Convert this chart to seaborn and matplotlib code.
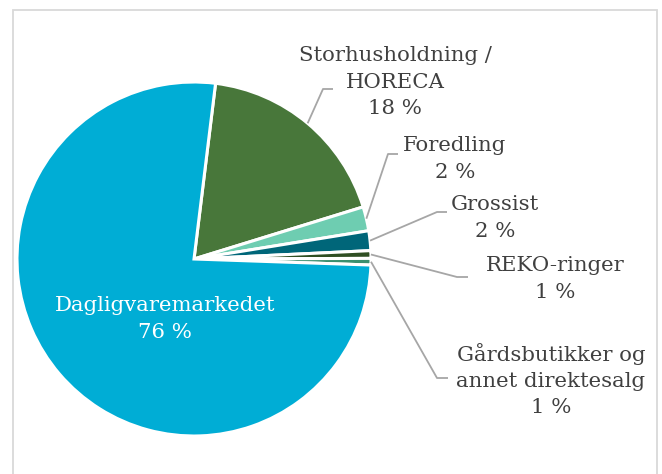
import numpy as np
import seaborn as sns
import matplotlib
matplotlib.use('Agg')
import matplotlib.pyplot as plt
from matplotlib.patches import Rectangle

# data
categories = ['Storhusholdning /\nHORECA', 'Foredling', 'Grossist', 'REKO-ringer',
              'Gårdsbutikker og\nannet direktesalg', 'Dagligvaremarkedet']
shares = [18.3, 2.2, 1.8, 0.7, 0.6, 76.4]
colors = ['#48773A', '#6ECDB1', '#006679', '#2F4F23', '#3A8F6E', '#00ADD5']

W, H = 662, 474
sns.set_theme(style='white')
plt.rcParams['font.family'] = ['DejaVu Serif']

fig = plt.figure(figsize=(W / 100, H / 100), dpi=100)
ax = fig.add_axes([0, 0, 1, 1])


def up(y):
    return H - y


cx, cy, r = 194, up(259), 177
wedges, _ = ax.pie(shares, colors=colors, startangle=83, counterclock=False,
                   center=(cx, cy), radius=r, frame=True,
                   wedgeprops=dict(edgecolor='white', linewidth=2.2))
ax.set_xlim(0, W)
ax.set_ylim(0, H)
ax.set_aspect('equal')
ax.axis('off')

# label layout (pixel coords, y down): text centre, leader elbow, leader end
text_pos = [(395, 82), (455, 159), (495, 218), (555, 279), (551, 380)]
elbows = [(323, 89), (388, 154), (437, 212), (457, 277), (437, 378)]
ends = [(333, 89), (398, 154), (447, 212), (468, 277), (448, 378)]

fs = 15.3
ls = 1.47
for i in range(5):
    w = wedges[i]
    mid = np.deg2rad((w.theta1 + w.theta2) / 2)
    ax_pt = (cx + r * np.cos(mid), cy + r * np.sin(mid))
    ex, ey = elbows[i]
    nx, ny = ends[i]
    ax.plot([ax_pt[0], ex, nx], [ax_pt[1], up(ey), up(ny)], color='#A6A6A6', lw=1.3,
            solid_capstyle='butt', zorder=1)
    tx, ty = text_pos[i]
    ax.text(tx, up(ty), f'{categories[i]}\n{round(shares[i]):.0f} %', ha='center', va='center',
            fontsize=fs, color='#404040', linespacing=ls)

ax.text(165, up(319), f'{categories[5]}\n{round(shares[5]):.0f} %', ha='center', va='center',
        fontsize=fs, color='white', linespacing=ls)

fig.patches.append(Rectangle((12.5 / W, -0.1), (656.5 - 12.5) / W, (H - 10) / H + 0.1,
                             transform=fig.transFigure, fill=False, edgecolor='#D9D9D9',
                             lw=1.3))

fig.savefig('out.png', dpi=100)
